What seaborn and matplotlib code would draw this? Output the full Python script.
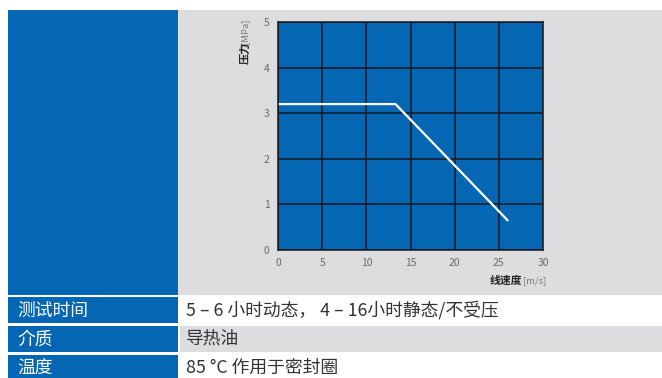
import matplotlib.pyplot as plt
import seaborn as sns
import pandas as pd
from matplotlib.patches import Rectangle

# curve data
speed = [0, 13.3, 26]
pressure = [3.2, 3.2, 0.65]
x_ticks = [0, 5, 10, 15, 20, 25, 30]
y_ticks = [0, 1, 2, 3, 4, 5]

# table rows
row_labels = ["测试时间", "介质", "温度"]
row_values = ["5 – 6 小时动态， 4 – 16小时静态/不受压", "导热油", "85 °C 作用于密封圈"]

BLUE = "#0566B3"
GRAY = "#DCDDDF"

sns.set_style("white")
plt.rcParams['font.family'] = ['Noto Sans CJK SC', 'DejaVu Sans']

fig = plt.figure(figsize=(6.62, 3.78), dpi=100)

# background layer in pixel coords
bg = fig.add_axes([0, 0, 1, 1])
bg.set_xlim(0, 662)
bg.set_ylim(378, 0)
bg.axis("off")

bg.add_patch(Rectangle((8, 10), 170, 285, color=BLUE, lw=0))
bg.add_patch(Rectangle((178, 10), 484, 285, color=GRAY, lw=0))

rows = [(297, 26, "white"), (326, 26, GRAY), (355, 23, "white")]
for (y0, h, c), lab, val in zip(rows, row_labels, row_values):
    bg.add_patch(Rectangle((8, y0), 170, h, color=BLUE, lw=0))
    bg.add_patch(Rectangle((180, y0), 482, h, color=c, lw=0))
    bg.text(17, y0 + 13.5, lab, color="white", fontsize=12.8, va="center", ha="left")
    bg.text(186, y0 + 13.5, val, color="#333333", fontsize=12.8, va="center", ha="left")

# axis titles
bg.text(245, 53, "压力", rotation=90, fontsize=8, color="#222222", ha="center", va="center", fontweight="bold")
bg.text(245, 31, "[MPa]", rotation=90, fontsize=6.8, color="#777777", ha="center", va="center")
bg.text(522, 281, "线速度", fontsize=7.8, color="#222222", ha="right", va="center", fontweight="bold")
bg.text(523, 281, "[m/s]", fontsize=6.8, color="#777777", ha="left", va="center")

# chart
ax = fig.add_axes([278 / 662, 1 - 250 / 378, (543 - 278) / 662, (250 - 22) / 378])
ax.set_facecolor(BLUE)
df = pd.DataFrame({"speed": speed, "pressure": pressure})
sns.lineplot(data=df, x="speed", y="pressure", ax=ax, color="white", linewidth=1.6)
ax.set_xlim(0, 30)
ax.set_ylim(0, 5)
ax.set_xticks(x_ticks)
ax.set_yticks(y_ticks)
ax.grid(True, color="#15191f", linewidth=1.1)
ax.set_axisbelow(True)
for s in ax.spines.values():
    s.set_color("#15191f")
    s.set_linewidth(1.1)
ax.tick_params(length=0, labelsize=7.5, labelcolor="#6a6a6a", pad=6)
ax.set_xlabel("")
ax.set_ylabel("")

fig.savefig("out.png", dpi=100)
